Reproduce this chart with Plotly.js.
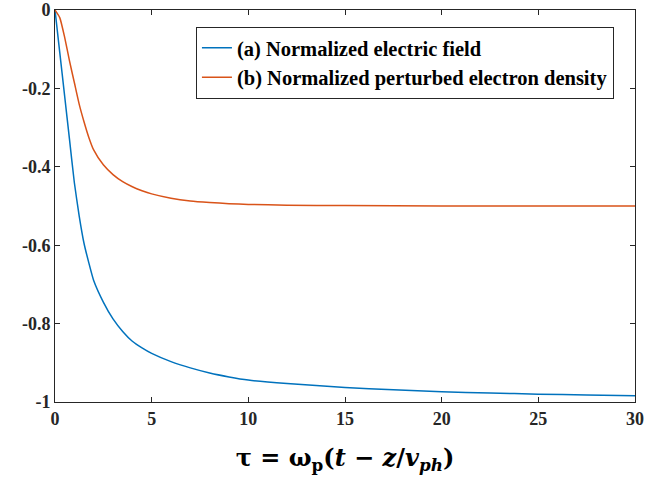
<!DOCTYPE html>
<html>
<head>
<meta charset="utf-8">
<script src="https://cdn.plot.ly/plotly-3.0.1.min.js"></script>
<style>html,body{margin:0;padding:0;background:#fff;}#chart{width:646px;height:479px;}</style>
</head>
<body>
<div id="chart"></div>
<script>
const tauField = [0, 0.25, 0.5, 0.75, 1, 1.25, 1.5, 1.75, 2, 2.5, 3, 3.5, 4, 4.5, 5, 6, 7, 8, 9, 10, 12, 15, 17.5, 20, 22.5, 25, 27.5, 30];
const fieldValues = [0, -0.11, -0.22, -0.33, -0.44, -0.525, -0.595, -0.645, -0.69, -0.745, -0.788, -0.82, -0.845, -0.862, -0.876, -0.897, -0.913, -0.926, -0.936, -0.944, -0.953, -0.963, -0.969, -0.974, -0.977, -0.980, -0.982, -0.984];
const tauDensity = [0, 0.25, 0.5, 0.75, 1, 1.25, 1.5, 1.75, 2, 2.5, 3, 3.5, 4, 4.5, 5, 6, 7, 8, 9, 10, 12, 15, 20, 25, 30];
const densityValues = [0, -0.02, -0.07, -0.13, -0.185, -0.24, -0.285, -0.325, -0.357, -0.395, -0.42, -0.438, -0.451, -0.461, -0.469, -0.48, -0.487, -0.491, -0.494, -0.496, -0.498, -0.499, -0.5, -0.5, -0.5];
const seriesNames = ["<b>(a) Normalized electric field</b>", "<b>(b) Normalized perturbed electron density</b>"];
const xTickVals = [0, 5, 10, 15, 20, 25, 30];
const xTickText = ["<b>0</b>", "<b>5</b>", "<b>10</b>", "<b>15</b>", "<b>20</b>", "<b>25</b>", "<b>30</b>"];
const yTickVals = [0, -0.2, -0.4, -0.6, -0.8, -1];
const yTickText = ["<b>0</b>", "<b>-0.2</b>", "<b>-0.4</b>", "<b>-0.6</b>", "<b>-0.8</b>", "<b>-1</b>"];
const xTitle = "<b>τ = ω<sub>p</sub>(<i>t</i> − <i>z</i>/<i>v<sub>ph</sub></i>)</b>";

const traces = [
  {x: tauField, y: fieldValues, type: "scatter", mode: "lines", name: seriesNames[0],
   line: {color: "#0072BD", width: 1.5, shape: "spline", smoothing: 0.5}},
  {x: tauDensity, y: densityValues, type: "scatter", mode: "lines", name: seriesNames[1],
   line: {color: "#D95319", width: 1.5, shape: "spline", smoothing: 0.5}}
];

const serif = "'Liberation Serif', 'Times New Roman', serif";
const tickFont = {family: serif, size: 18, color: "#262626"};
const axisCommon = {
  showgrid: false, zeroline: false, showline: true, linecolor: "#262626", linewidth: 1,
  mirror: "ticks", ticks: "inside", ticklen: 5, tickcolor: "#262626", tickwidth: 1,
  tickfont: tickFont, ticklabeloverflow: "allow"
};

const layout = {
  width: 646, height: 479,
  margin: {l: 55, r: 11, t: 10, b: 77},
  paper_bgcolor: "#ffffff", plot_bgcolor: "#ffffff",
  showlegend: true,
  xaxis: Object.assign({}, axisCommon, {
    range: [0, 30], tickmode: "array", tickvals: xTickVals, ticktext: xTickText,
    title: {text: xTitle, font: {family: "'DejaVu Serif', serif", size: 24, color: "#000"}, standoff: 21}
  }),
  yaxis: Object.assign({}, axisCommon, {
    range: [-1, 0], tickmode: "array", tickvals: yTickVals, ticktext: yTickText
  }),
  legend: {
    x: 0.243, y: 0.957, xanchor: "left", yanchor: "top",
    bgcolor: "#ffffff", bordercolor: "#262626", borderwidth: 1,
    font: {family: serif, size: 20.5, color: "#000"},
    tracegroupgap: 0, itemwidth: 30
  }
};

Plotly.newPlot("chart", traces, layout, {displayModeBar: false, staticPlot: true});
</script>
</body>
</html>
